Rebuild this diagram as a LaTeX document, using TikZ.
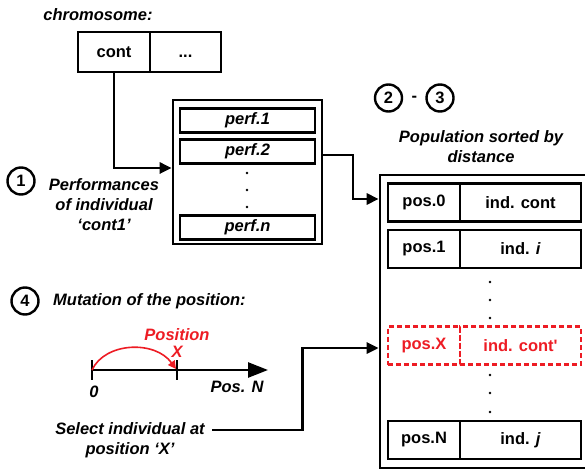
\documentclass[tikz,border=0pt]{standalone}
\usepackage{fontspec}
\setmainfont{Liberation Sans}
\usetikzlibrary{arrows.meta,calc,positioning}
\definecolor{markred}{RGB}{237,28,36}

\begin{document}
\begin{tikzpicture}[
  x=1pt,
  y=-1pt,
  >=Triangle,
  font=\fontsize{16.5}{20}\selectfont\bfseries,
  cell/.style={draw, line width=2.6pt, outer sep=0pt, inner sep=0pt, minimum height=38pt},
  redcell/.style={draw=markred, text=markred, dash pattern=on 5pt off 3pt},
  perfrow/.style={
    draw, line width=2.6pt, inner sep=0pt,
    minimum width=135pt, minimum height=24pt,
    font=\fontsize{16.5}{20}\selectfont\bfseries\itshape
  },
  frame/.style={draw, line width=2.6pt, outer sep=0pt, inner sep=0pt},
  conn/.style={line width=2.6pt, -{Triangle[length=12pt,width=11pt]}, shorten >=1.3pt},
  stepnum/.style={circle, draw, line width=2.4pt, minimum size=27pt, inner sep=0pt},
  caption/.style={align=center, font=\fontsize{16.5}{20}\selectfont\bfseries\itshape}
]
\clip (0,0) rectangle (585,470);

% Chromosome
\node[caption] (chromlbl) at (98,15) {chromosome:};
\node[cell, minimum width=72pt, minimum height=40pt] (cont) at (114,52) {cont};
\node[cell, minimum width=71pt, minimum height=40pt, right=0pt of cont] (chromrest)
  {\vphantom{cont}{.}{.}{.}};

% Performances of the individual
\node[frame, minimum width=149pt, minimum height=144pt] (perfbox) at (247.5,172) {};
\node[perfrow] (perfone) at (247.5,120.5) {perf.1};
\node[perfrow] (perftwo) at (247.5,151.5) {perf.2};
\node[perfrow] (perfn) at (247.5,227.5) {perf.n};
\fill (247,173) circle (1.4pt);
\fill (247,190) circle (1.4pt);
\fill (247,207) circle (1.4pt);

\node[stepnum] (stepone) at (21,181) {1};
\node[caption] (perflbl) at (104,205) {Performances\\of individual\\‘cont1’};

\draw[conn] (cont.south) |- ([yshift=4pt]perfbox.west);

% Sorted population
\node[stepnum] (steptwo) at (388.5,98) {2};
\node[stepnum] (stepthree) at (440,98) {3};
\node[inner sep=0pt, anchor=base, yshift=2pt] (stepdash)
  at ($(steptwo.base)!0.5!(stepthree.base)$) {-};
\node[caption] (poplbl) at (481,147) {Population sorted by\\distance};

\node[frame, minimum width=220pt, minimum height=293pt] (popbox) at (490,321.5) {};
\coordinate (popin) at (380,199);
\coordinate (popsel) at (380,348);

\node[cell, minimum width=72pt] (poszero) at (424,202.5) {pos.0};
\node[cell, minimum width=121pt, right=0pt of poszero] (indzero) {ind. cont};
\node[cell, minimum width=72pt] (posone) at (424,249) {pos.1};
\node[cell, minimum width=121pt, right=0pt of posone] (indone) {ind. \textit{i}};
\node[cell, redcell, minimum width=72pt] (posx) at (424,345.5) {pos.X};
\node[cell, redcell, minimum width=121pt, right=0pt of posx] (indx) {ind. cont\textquotesingle};
\node[cell, minimum width=72pt] (posn) at (424,440) {pos.N};
\node[cell, minimum width=121pt, right=0pt of posn] (indn) {ind. \textit{j}};

\fill (490,282) circle (1.4pt);
\fill (490,300) circle (1.4pt);
\fill (490,318) circle (1.4pt);
\fill (490,375) circle (1.4pt);
\fill (490,393) circle (1.4pt);
\fill (490,412) circle (1.4pt);

\draw[conn] ($(perfbox.east |- perftwo)+(0,3.5)$) -- ++(31,0) |- (popin);

% Mutation of the position
\node[stepnum] (stepfour) at (25,301) {4};
\node[caption, right=10pt of stepfour] (mutlbl) {Mutation of the position:};

\coordinate (nzero) at (92,370);
\coordinate (nxpos) at (177,370);
\coordinate (nend) at (268,370);
\draw[line width=2.6pt, -{Triangle[length=20pt,width=15pt]}] (nzero) -- (nend);
\draw[line width=2.4pt] ([yshift=10pt]nzero) -- ([yshift=-10pt]nzero);
\draw[line width=2.4pt] ([yshift=10pt]nxpos) -- ([yshift=-10pt]nxpos);
\draw[markred, line width=1.6pt, -{Triangle[length=8pt,width=8pt]}]
  (nzero) .. controls (105,342) and (155,340) .. ([xshift=-1pt,yshift=1pt]nxpos);

\node[caption] (zerolbl) at (94,392) {0};
\node[caption] (poslbln) at (237,387) {Pos. N};
\node[caption, text=markred, font=\fontsize{16.5}{17}\selectfont\bfseries\itshape]
  (xlbl) at (177,343) {Position\\X};

% Selection
\node[caption] (sellbl) at (130,440) {Select individual at\\position ‘X’};
\draw[conn] ([xshift=4pt,yshift=10pt]sellbl.east) -- ++(90,0) |- (popsel);
\end{tikzpicture}
\end{document}
